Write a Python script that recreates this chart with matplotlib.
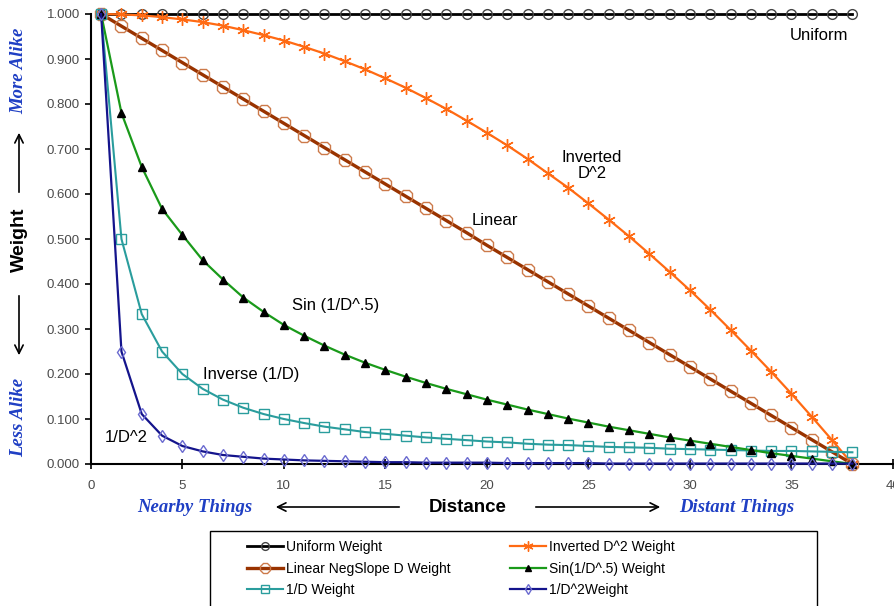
import matplotlib
matplotlib.use("Agg")
import matplotlib.pyplot as plt
from matplotlib.patches import Rectangle, FancyArrowPatch

plt.rcParams['font.family'] = ['Liberation Sans', 'DejaVu Sans']

# distance steps
distance = list(range(1, 39))

uniform = [1.000] * 38
inverted_d2 = [1.000, 0.999, 0.997, 0.993, 0.988, 0.982, 0.974, 0.964, 0.953, 0.941,
               0.927, 0.912, 0.895, 0.877, 0.857, 0.836, 0.813, 0.789, 0.763, 0.736,
               0.708, 0.678, 0.646, 0.614, 0.579, 0.543, 0.506, 0.467, 0.427, 0.386,
               0.343, 0.298, 0.252, 0.205, 0.156, 0.105, 0.053, 0.000]
linear = [1.000, 0.973, 0.946, 0.919, 0.892, 0.865, 0.838, 0.811, 0.784, 0.757,
          0.730, 0.703, 0.676, 0.649, 0.622, 0.595, 0.568, 0.541, 0.514, 0.486,
          0.459, 0.432, 0.405, 0.378, 0.351, 0.324, 0.297, 0.270, 0.243, 0.216,
          0.189, 0.162, 0.135, 0.108, 0.081, 0.054, 0.027, 0.000]
sin_d5 = [1.000, 0.780, 0.660, 0.567, 0.509, 0.453, 0.410, 0.370, 0.338, 0.309,
          0.285, 0.263, 0.243, 0.225, 0.209, 0.194, 0.180, 0.167, 0.155, 0.143,
          0.132, 0.121, 0.111, 0.101, 0.092, 0.083, 0.075, 0.067, 0.059, 0.052,
          0.045, 0.038, 0.031, 0.024, 0.018, 0.012, 0.006, 0.000]
inv_d = [1.000, 0.500, 0.333, 0.250, 0.200, 0.167, 0.143, 0.125, 0.111, 0.100,
         0.091, 0.083, 0.077, 0.071, 0.067, 0.063, 0.059, 0.056, 0.053, 0.050,
         0.048, 0.045, 0.043, 0.042, 0.040, 0.038, 0.037, 0.036, 0.034, 0.033,
         0.032, 0.031, 0.030, 0.029, 0.029, 0.028, 0.027, 0.026]
inv_d2 = [1.000, 0.250, 0.111, 0.063, 0.040, 0.028, 0.020, 0.016, 0.012, 0.010,
          0.008, 0.007, 0.006, 0.005, 0.004, 0.004, 0.003, 0.003, 0.003, 0.003,
          0.002, 0.002, 0.002, 0.002, 0.002, 0.001, 0.001, 0.001, 0.001, 0.001,
          0.001, 0.001, 0.001, 0.001, 0.001, 0.001, 0.001, 0.001]

xtick_pos = [0.5, 5, 10, 15, 20, 25, 30, 35, 40]
xtick_labels = ['0', '5', '10', '15', '20', '25', '30', '35', '40']
ytick_pos = [i / 10 for i in range(11)]

W, H = 894, 606
fig = plt.figure(figsize=(W / 100, H / 100), dpi=100)

def fx(x):
    return x / W

def fy(y):
    return 1 - y / H

ax = fig.add_axes([fx(91), fy(464), (893 - 91) / W, 450 / H])

kw = dict(clip_on=False)
l1, = ax.plot(distance, uniform, color='black', lw=2, marker='o', ms=7,
              mfc='none', mec='#444444', mew=1, label='Uniform Weight', zorder=3, **kw)
l2, = ax.plot(distance, inverted_d2, color='#FF6A13', lw=1.6, marker=(6, 2, 0), ms=9,
              mec='#FF6A13', mew=1, label='Inverted D^2 Weight', zorder=4, **kw)
l3, = ax.plot(distance, linear, color='#993300', lw=2.4, marker='8', ms=10,
              mfc='none', mec='#CC7A4A', mew=1, label='Linear NegSlope D Weight', zorder=5, **kw)
l5, = ax.plot(distance, inv_d, color='#2A9D9D', lw=1.5, marker='s', ms=7,
              mfc='none', mec='#2A9D9D', mew=1, label='1/D Weight', zorder=6, **kw)
l4, = ax.plot(distance, sin_d5, color='#1A9A1A', lw=1.6, marker='^', ms=6,
              mfc='black', mec='black', label='Sin(1/D^.5) Weight', zorder=7, **kw)
l6, = ax.plot(distance, inv_d2, color='#14148C', lw=1.6, marker='d', ms=6,
              mfc='none', mec='#6A6AD0', mew=1, label='1/D^2Weight', zorder=8, **kw)

ax.set_xlim(0.5, 40)
ax.set_ylim(0, 1)
ax.set_xticks(xtick_pos)
ax.set_xticklabels(xtick_labels)
ax.set_yticks(ytick_pos)
ax.set_yticklabels(['%.3f' % v for v in ytick_pos])
for s in ['top', 'right']:
    ax.spines[s].set_visible(False)
for s in ['left', 'bottom']:
    ax.spines[s].set_linewidth(1.5)
ax.tick_params(axis='y', direction='out', length=4, width=1.2, pad=4,
               labelsize=9.5, labelcolor='#4a4a4a')
ax.tick_params(axis='x', direction='inout', length=7, width=1.2, pad=8,
               labelsize=9.5, labelcolor='#4a4a4a')
ax.patch.set_alpha(0)

# curve labels
tk = dict(fontsize=12, color='black')
ax.text(34.93, 0.953, 'Uniform', ha='left', va='center', **tk)
ax.text(25.18, 0.664, 'Inverted\nD^2', ha='center', va='center', linespacing=1.1, **tk)
ax.text(20.4, 0.542, 'Linear', ha='center', va='center', **tk)
ax.text(10.4, 0.353, 'Sin (1/D^.5)', ha='left', va='center', **tk)
ax.text(6.02, 0.200, 'Inverse (1/D)', ha='left', va='center', **tk)
ax.text(1.19, 0.058, '1/D^2', ha='left', va='center', **tk)

# axis titles and arrows
blue = '#1F3FC4'
serif = dict(family=['Liberation Serif', 'DejaVu Serif'], style='italic',
             weight='bold', color=blue, fontsize=13.5)
fig.text(fx(19), fy(71), 'More Alike', rotation=90, ha='center', va='center', **serif)
fig.text(fx(19), fy(417), 'Less Alike', rotation=90, ha='center', va='center', **serif)
fig.text(fx(195), fy(507), 'Nearby Things', ha='center', va='center', **serif)
fig.text(fx(737), fy(507), 'Distant Things', ha='center', va='center', **serif)
fig.text(fx(19), fy(240), 'Weight', rotation=90, ha='center', va='center',
         fontsize=14, weight='bold')
fig.text(fx(468), fy(507), 'Distance', ha='center', va='center',
         fontsize=13.5, weight='bold')

for (x0, y0, x1, y1) in [(19, 195, 19, 130), (19, 293, 19, 358),
                         (402, 507, 273, 507), (533, 507, 663, 507)]:
    fig.patches.append(FancyArrowPatch((fx(x0), fy(y0)), (fx(x1), fy(y1)),
                                       transform=fig.transFigure, arrowstyle='->,head_length=6,head_width=3',
                                       color='black', lw=1.2, mutation_scale=1))

# legend box (cut off at the bottom, like the reference)
fig.patches.append(Rectangle((fx(210), fy(640)), (817 - 210) / W, (640 - 531) / H,
                             transform=fig.transFigure, fill=False, ec='black', lw=1))
handles = [l1, l3, l5, l2, l4, l6]
fig.legend(handles=handles, labels=[h.get_label() for h in handles], ncol=2,
           loc='upper left', bbox_to_anchor=(fx(240), fy(533)), frameon=False,
           fontsize=10, handlelength=2.6, handletextpad=0.2, columnspacing=4.3,
           labelspacing=0.55, borderpad=0, numpoints=1, markerscale=0.8)

fig.savefig('out.png', dpi=100)
